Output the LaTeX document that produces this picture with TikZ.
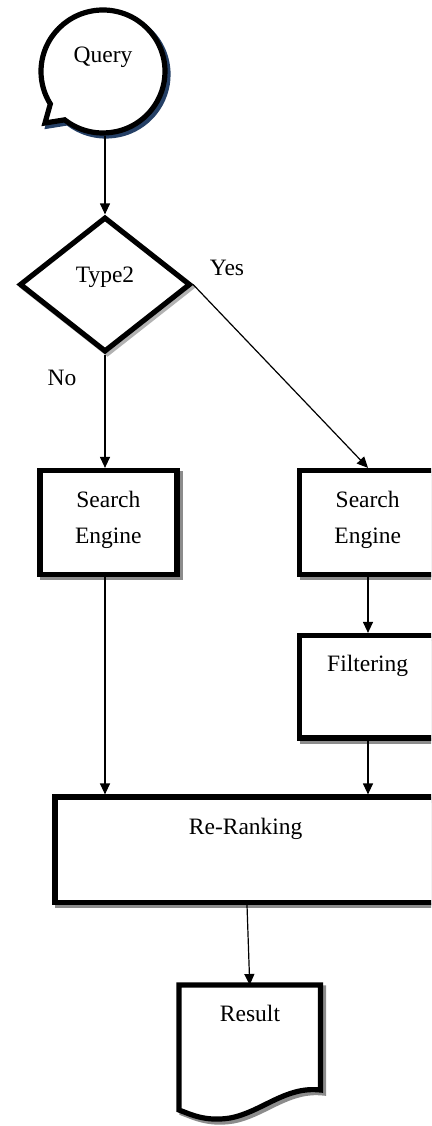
\documentclass[tikz,border=0pt]{standalone}
\usepackage{fontspec}
\setmainfont{Liberation Serif}
\usetikzlibrary{shapes.geometric,shapes.callouts,shadows,arrows.meta}
\definecolor{bubbleshadow}{RGB}{37,64,102}
\begin{document}
\begin{tikzpicture}[x=1pt,y=-1pt,
  thickline/.style={draw=black, line width=5.2pt, fill=white},
  box/.style={thickline, rectangle, inner sep=0pt},
  gshadow/.style={drop shadow={shadow xshift=3pt, shadow yshift=-3pt, fill=black!45, draw=black!45, line width=5.2pt, opacity=1}},
  lshadow/.style={drop shadow={shadow xshift=2.5pt, shadow yshift=-2.5pt, fill=black!30, draw=black!30, line width=5.2pt, opacity=1}},
  bshadow/.style={drop shadow={shadow xshift=3pt, shadow yshift=-3pt, fill=bubbleshadow, draw=bubbleshadow, line width=5.2pt, opacity=1}},
  conn/.style={line width=1.2pt, -{Triangle[length=11pt,width=10pt]}},
  lbl/.style={font=\fontsize{23.5}{35.5}\selectfont, inner sep=0pt},
]
\useasboundingbox (0,0) rectangle (431,1126);
\clip (0,0) rectangle (431,1126);

% Query bubble
\node[ellipse callout, thickline, bshadow, minimum width=124pt, minimum height=123pt,
      inner sep=0pt, callout absolute pointer={(45,123)}, callout pointer arc=20] (q) at (103,71.5) {};
\node[lbl, anchor=base] (qt) at (103,63) {Query};

% Decision
\node[diamond, thickline, lshadow, minimum width=171pt, minimum height=135pt, inner sep=0pt] (d) at (105,284.5) {};
\node[lbl, anchor=base] (dt) at (105,282) {Type2};
\node[lbl, anchor=base] (yes) at (227,275) {Yes};
\node[lbl, anchor=base] (no) at (62,385) {No};

% Search engines
\node[box, gshadow, minimum width=137pt, minimum height=104pt] (se1) at (108.5,522.5) {};
\node[lbl, align=center] (se1t) at (108.3,520) {Search\\Engine};
\node[box, gshadow, minimum width=137pt, minimum height=104pt] (se2) at (368,522.5) {};
\node[lbl, align=center] (se2t) at (367.7,520) {Search\\Engine};

% Filtering
\node[box, gshadow, minimum width=137pt, minimum height=102.5pt] (filt) at (368,686.75) {};
\node[lbl, anchor=base] (filtt) at (367.7,671.7) {Filtering};

% Re-Ranking
\node[box, gshadow, minimum width=384pt, minimum height=105.5pt] (rr) at (247,849.75) {};
\node[lbl, anchor=base] (rrt) at (245.7,834) {Re-Ranking};

% Result document
\draw[thickline, gshadow, line join=miter]
  (179,985) -- (320.5,985) -- (320.5,1090)
  .. controls (285,1086) and (262,1112) .. (230,1118)
  .. controls (205,1122) and (190,1114) .. (179,1110) -- cycle;
\node[rectangle, inner sep=0pt, outer sep=2.6pt, minimum width=141.5pt, minimum height=100pt, anchor=north] (res) at (249.75,985) {};
\node[lbl, anchor=base] (rest) at (250,1021) {Result};

% Connectors
\draw[conn] (q.south -| d.north) -- (d.north);
\draw[conn] (d.east) -- (se2.north);
\draw[conn] (d.south) -- (d.south |- se1.north);
\draw[conn] (se1.south -| d.south) -- (d.south |- rr.north);
\draw[conn] (se2.south) -- (filt.north);
\draw[conn] (filt.south) -- (filt.south |- rr.north);
\draw[conn] (rr.south) -- (res.north);
\end{tikzpicture}
\end{document}
